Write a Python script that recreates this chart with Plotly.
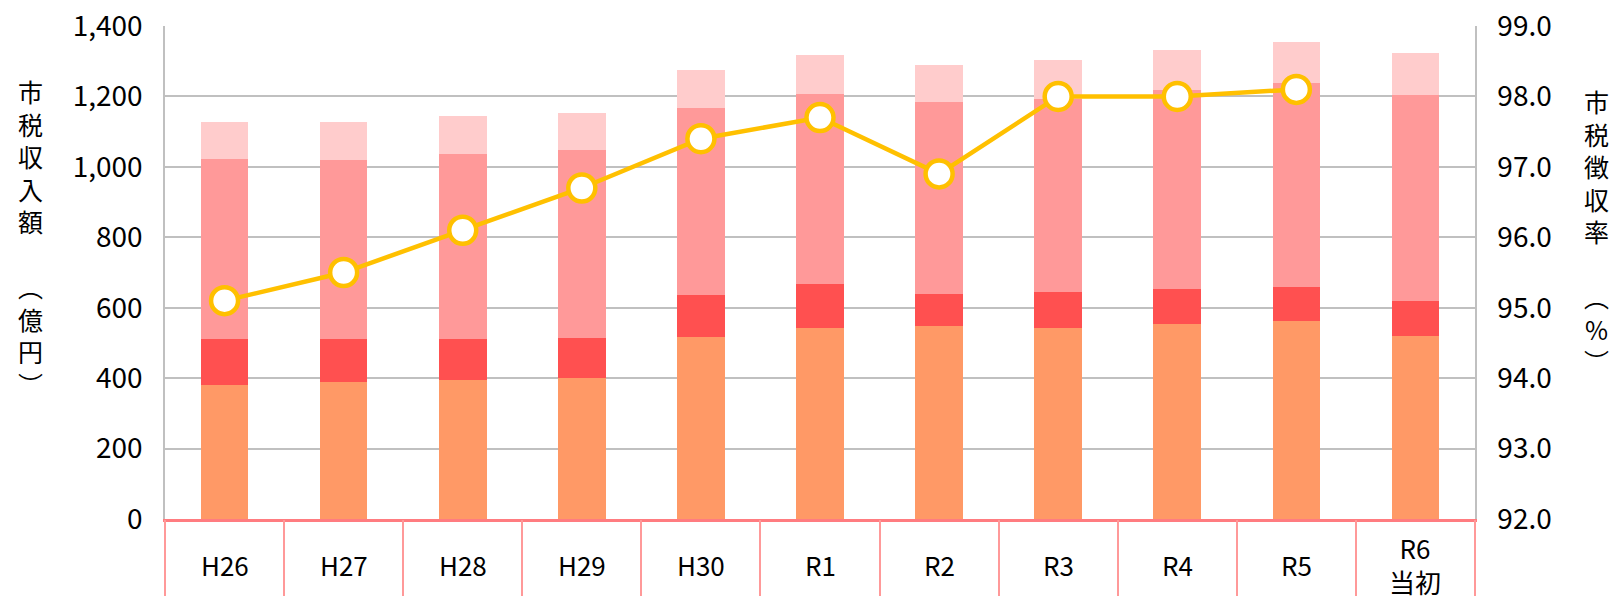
import plotly.graph_objects as go

categories = ["H26", "H27", "H28", "H29", "H30", "R1", "R2", "R3", "R4", "R5", "R6"]
x_labels = ["H26", "H27", "H28", "H29", "H30", "R1", "R2", "R3", "R4", "R5", "R6<br>当初"]

kojin = [381, 388, 396, 400, 518, 542, 548, 543, 553, 561, 520]
hojin = [129, 122, 116, 115, 117, 124, 92, 103, 101, 99, 100]
kotei = [511, 510, 525, 533, 533, 542, 543, 548, 565, 579, 585]
sonota = [107, 106, 108, 105, 107, 110, 107, 109, 113, 116, 118]

rate = [95.1, 95.5, 96.1, 96.7, 97.4, 97.7, 96.9, 98.0, 98.0, 98.1, None]

left_ticks = [0, 200, 400, 600, 800, 1000, 1200, 1400]
right_ticks = [92.0, 93.0, 94.0, 95.0, 96.0, 97.0, 98.0, 99.0]

series = [
    ("個人市民税", kojin, "#FF9966"),
    ("法人市民税", hojin, "#FF5050"),
    ("固定資産税", kotei, "#FF9999"),
    ("その他", sonota, "#FFCCCC"),
]

NARROW = "Noto Sans CJK JP, sans-serif"
CJK = "Noto Sans CJK JP, sans-serif"

fig = go.Figure()
for name, vals, color in series:
    fig.add_trace(go.Bar(x=categories, y=vals, name=name, marker=dict(color=color, line=dict(width=0)),
                         showlegend=False))

fig.add_trace(go.Scatter(x=categories, y=rate, yaxis="y2", mode="lines+markers", name="市税徴収率",
                         line=dict(color="#FFC000", width=4.5),
                         marker=dict(size=27, color="white", line=dict(color="#FFC000", width=4.5)),
                         showlegend=False))

# dummy trace for the category-boundary divider axis
fig.add_trace(go.Scatter(x=categories, y=[None] * len(categories), xaxis="x2", showlegend=False,
                         hoverinfo="skip", mode="markers"))

annotations = []
for cat, lab in zip(categories, x_labels):
    annotations.append(dict(x=cat, xref="x", y=-0.092, yref="paper", text=lab, showarrow=False,
                            yanchor="middle", xanchor="center",
                            font=dict(family=NARROW, size=26, color="black")))

left_title = "<br>".join(list("市税収入額") + [""] + ["︵", "億", "円", "︶"])
right_title = "<br>".join(list("市税徴収率") + [""] + ["︵", "%", "︶"])
annotations.append(dict(x=-0.103, xref="paper", y=0.572, yref="paper", text=left_title, showarrow=False,
                        xanchor="center", yanchor="middle", font=dict(family=CJK, size=25, color="black")))
annotations.append(dict(x=1.093, xref="paper", y=0.585, yref="paper", text=right_title, showarrow=False,
                        xanchor="center", yanchor="middle", font=dict(family=CJK, size=25, color="black")))

fig.update_layout(
    width=1615, height=596,
    margin=dict(l=165, r=140, t=26, b=77, autoexpand=False),
    paper_bgcolor="white", plot_bgcolor="white",
    barmode="stack", bargap=0.6,
    showlegend=False,
    xaxis=dict(type="category", categoryarray=categories, range=[-0.5, 10.5], automargin=False,
               showline=True, linecolor="#FF7C80", linewidth=2.5,
               showticklabels=False, ticks="", showgrid=False, zeroline=False),
    xaxis2=dict(type="category", categoryarray=categories, range=[-0.5, 10.5], overlaying="x",
                anchor="y", side="bottom", tickson="boundaries", ticks="outside", ticklen=80,
                tickwidth=1.5, tickcolor="#FF9999", showticklabels=False, showgrid=False,
                showline=False, zeroline=False, automargin=False),
    yaxis=dict(range=[0, 1400], tickvals=left_ticks, ticktext=[f"{v:,}" for v in left_ticks],
               showgrid=True, gridcolor="#C0C0C0", gridwidth=1.5, automargin=False,
               showline=True, linecolor="#C0C0C0", linewidth=1.5, zeroline=False,
               ticks="", ticklabelstandoff=15, ticklabeloverflow="allow",
               tickfont=dict(family=NARROW, size=28, color="black")),
    yaxis2=dict(range=[92, 99], overlaying="y", side="right", tickvals=right_ticks,
                ticktext=[f"{v:.1f}" for v in right_ticks], automargin=False,
                showgrid=False, showline=True, linecolor="#C0C0C0", linewidth=1.5, zeroline=False,
                ticks="", ticklabelstandoff=15, ticklabeloverflow="allow",
                tickfont=dict(family=NARROW, size=28, color="black")),
    annotations=annotations,
)

fig.write_html("out.html", config={"displayModeBar": False},
               post_script="document.body.style.margin='0';document.body.style.overflow='hidden';")
